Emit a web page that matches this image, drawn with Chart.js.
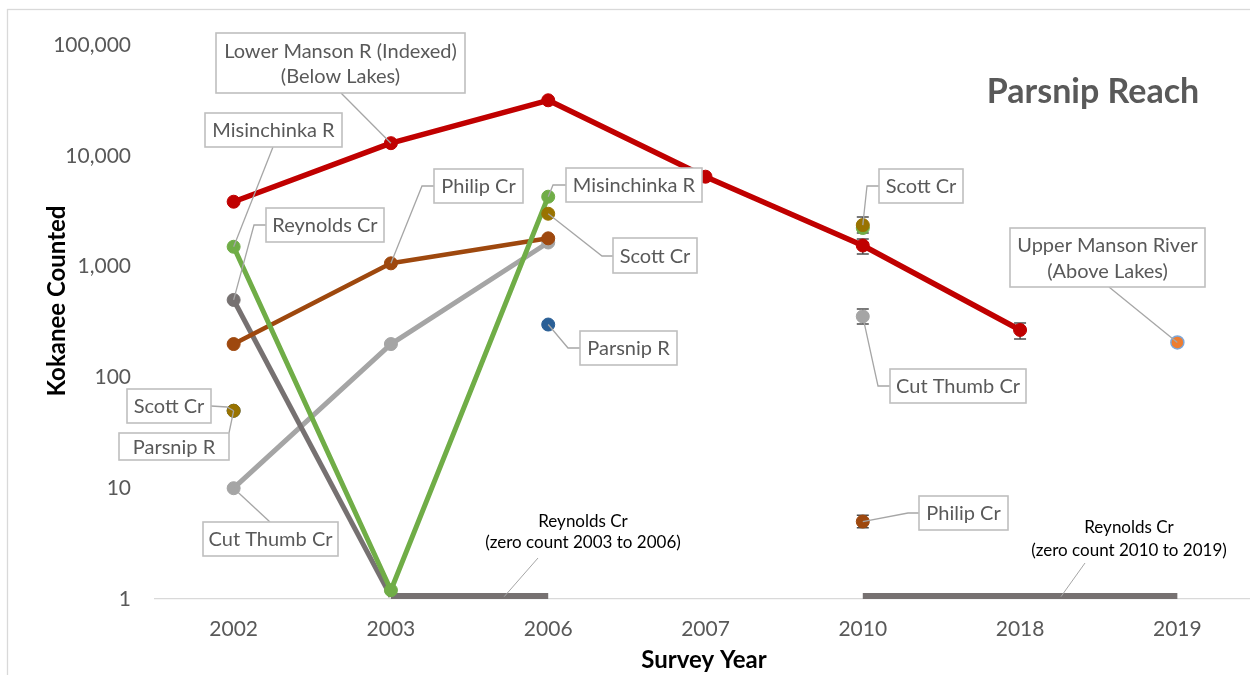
<!DOCTYPE html>
<html>
<head>
<meta charset="utf-8">
<title>Parsnip Reach</title>
<script src="https://cdn.jsdelivr.net/npm/chart.js@4.4.1/dist/chart.umd.min.js"></script>
<style>
  html, body { margin: 0; padding: 0; background: #ffffff; overflow: hidden; width: 1250px; height: 675px; }
  #wrap { position: relative; width: 1264px; height: 675px; }
</style>
</head>
<body>
<div id="wrap"><canvas id="chart" width="1264" height="675"></canvas></div>
<script>
// Survey years (category axis) and log-axis tick values
const years = ['2002', '2003', '2006', '2007', '2010', '2018', '2019'];
const yTickValues = [1, 10, 100, 1000, 10000, 100000];

// Kokanee counts per survey year (null = not surveyed)
const lowerManson   = [3850, 13000, 31700, 6475, 1550, 268, null];
const lowerMansonHi = [null, null, null, null, 1775, 310, null];
const lowerMansonLo = [null, null, null, null, 1300, 222, null];

const scottCr   = [50, null, 3000, null, 2370, null, null];
const scottCrHi = [null, null, null, null, 2800, null, null];
const scottCrLo = [null, null, null, null, 2010, null, null];

const parsnipR    = [50, null, 300, null, null, null, null];
const upperManson = [null, null, null, null, null, null, 207];
const misinchinka = [1510, 1.2, 4275, null, 2230, null, null];

const philipCr   = [200, 1070, 1800, null, 5, null, null];
const philipCrHi = [null, null, null, null, 5.7, null, null];
const philipCrLo = [null, null, null, null, 4.4, null, null];

// zero counts are drawn on the floor of the log axis
const reynoldsCr = [500, 1.05, 1.05, null, 1.05, 1.05, 1.05];

const cutThumbCr   = [10, 200, 1650, null, 355, null, null];
const cutThumbCrHi = [null, null, null, null, 414, null, null];
const cutThumbCrLo = [null, null, null, null, 303, null, null];

const FONT = 'Lato, "Open Sans", "Noto Sans", sans-serif';
const LABEL_GREY = '#595959';

function series(label, data, color, extra) {
  return Object.assign({
    label, data,
    borderColor: color, backgroundColor: color,
    pointBackgroundColor: color, pointBorderColor: color,
    borderWidth: 5, pointRadius: 6.5, pointHoverRadius: 6.5, pointBorderWidth: 1,
    borderJoinStyle: 'round', borderCapStyle: 'round',
    spanGaps: false, tension: 0
  }, extra || {});
}

// first dataset is painted on top
const datasets = [
  series('Lower Manson R (Indexed)', lowerManson, '#C00000', { borderWidth: 5.5 }),
  series('Scott Cr', scottCr, '#997300'),
  series('Parsnip R', parsnipR, '#2A5F96'),
  series('Upper Manson River', upperManson, '#ED7D31', { pointBorderColor: '#7DA7D9', pointBorderWidth: 1.5 }),
  series('Misinchinka R', misinchinka, '#70AD47'),
  series('Philip Cr', philipCr, '#9E480E', { borderWidth: 4.5 }),
  series('Reynolds Cr', reynoldsCr, '#767171', {
    borderCapStyle: 'butt',
    pointRadius: ctx => (ctx.dataIndex === 0 ? 6.5 : 0),
    segment: { borderWidth: ctx => (ctx.p0DataIndex === 0 ? 5 : 7.5) }
  }),
  series('Cut Thumb Cr', cutThumbCr, '#A5A5A5')
];

// error bars: [values, high, low]
const errorBars = [
  [lowerManson, lowerMansonHi, lowerMansonLo],
  [scottCr, scottCrHi, scottCrLo],
  [philipCr, philipCrHi, philipCrLo],
  [cutThumbCr, cutThumbCrHi, cutThumbCrLo]
];

// boxed callouts: the leader runs from the box through the listed points to the data point
const callouts = [
  { data: lowerManson, i: 1, lines: ['Lower Manson R (Indexed)', '(Below Lakes)'], box: [216, 33, 249, 60], path: [[341, 93]] },
  { data: misinchinka, i: 0, lines: ['Misinchinka R'], box: [205, 113, 137, 34], path: [[273, 147]] },
  { data: reynoldsCr, i: 0, lines: ['Reynolds Cr'], box: [266, 208, 118, 34], path: [[266, 225], [254, 225]] },
  { data: philipCr, i: 1, lines: ['Philip Cr'], box: [434, 169, 89, 34], path: [[434, 186], [422, 186]] },
  { data: misinchinka, i: 2, lines: ['Misinchinka R'], box: [566, 168, 136, 34], path: [[566, 185], [553, 185]] },
  { data: scottCr, i: 2, lines: ['Scott Cr'], box: [613, 238, 84, 35], path: [[613, 256], [602, 256]] },
  { data: parsnipR, i: 2, lines: ['Parsnip R'], box: [580, 331, 97, 34], path: [[580, 348], [568, 348]] },
  { data: scottCr, i: 4, lines: ['Scott Cr'], box: [879, 169, 84, 34], path: [[879, 186], [867, 186]] },
  { data: upperManson, i: 6, lines: ['Upper Manson River', '(Above Lakes)'], box: [1010, 228, 195, 59], path: [[1109, 287]] },
  { data: cutThumbCr, i: 4, lines: ['Cut Thumb Cr'], box: [890, 369, 136, 34], path: [[890, 386], [878, 386]] },
  { data: philipCr, i: 4, lines: ['Philip Cr'], box: [919, 496, 89, 34], path: [[919, 513], [908, 513]] },
  { data: scottCr, i: 0, lines: ['Scott Cr'], box: [127, 389, 84, 34], path: [[211, 406], [227, 407]] },
  { data: parsnipR, i: 0, lines: ['Parsnip R'], box: [119, 433, 110, 27], path: [[229, 433]] },
  { data: cutThumbCr, i: 0, lines: ['Cut Thumb Cr'], box: [203, 522, 135, 34], path: [[270, 522]] }
];

// notes for the zero-count runs; "at" is a fractional category position on the floor line
const zeroNotes = [
  { lines: ['Reynolds Cr', '(zero count 2003 to 2006)'], cx: 583, cy: [522, 543], from: [538, 558], at: 1.72 },
  { lines: ['Reynolds Cr', '(zero count 2010 to 2019)'], cx: 1129, cy: [528, 551], from: [1085, 563], at: 5.26 }
];

const annotations = {
  id: 'annotations',
  beforeDraw(chart) {
    const ctx = chart.ctx;
    ctx.save();
    ctx.fillStyle = '#ffffff';
    ctx.fillRect(0, 0, chart.width, chart.height);
    ctx.strokeStyle = '#D9D9D9';
    ctx.lineWidth = 1.3;
    ctx.strokeRect(7.5, 9.5, 2000, 2000);
    ctx.restore();
  },
  beforeDatasetsDraw(chart) {
    const ctx = chart.ctx, xs = chart.scales.x, ys = chart.scales.y;
    ctx.save();
    ctx.strokeStyle = '#4D4D4D';
    ctx.lineWidth = 1.5;
    errorBars.forEach(([vals, hi, lo]) => {
      vals.forEach((v, i) => {
        if (hi[i] == null || lo[i] == null) return;
        const x = xs.getPixelForValue(i);
        const yh = ys.getPixelForValue(hi[i]);
        const yl = ys.getPixelForValue(lo[i]);
        ctx.beginPath();
        ctx.moveTo(x, yh); ctx.lineTo(x, yl);
        ctx.moveTo(x - 6, yh); ctx.lineTo(x + 6, yh);
        ctx.moveTo(x - 6, yl); ctx.lineTo(x + 6, yl);
        ctx.stroke();
      });
    });
    ctx.restore();
  },
  afterDatasetsDraw(chart) {
    const ctx = chart.ctx, xs = chart.scales.x, ys = chart.scales.y;
    ctx.save();

    // leader lines of boxed callouts
    ctx.strokeStyle = '#A6A6A6';
    ctx.lineWidth = 1.3;
    callouts.forEach(c => {
      const px = xs.getPixelForValue(c.i);
      const py = ys.getPixelForValue(c.data[c.i]);
      ctx.beginPath();
      ctx.moveTo(c.path[0][0], c.path[0][1]);
      for (let k = 1; k < c.path.length; k++) ctx.lineTo(c.path[k][0], c.path[k][1]);
      ctx.lineTo(px, py);
      ctx.stroke();
    });

    // boxes and their text
    ctx.font = '20px ' + FONT;
    ctx.textAlign = 'center';
    ctx.textBaseline = 'middle';
    callouts.forEach(c => {
      const [bx, by, bw, bh] = c.box;
      ctx.fillStyle = '#ffffff';
      ctx.fillRect(bx, by, bw, bh);
      ctx.strokeStyle = '#BFBFBF';
      ctx.lineWidth = 1.6;
      ctx.strokeRect(bx, by, bw, bh);
      ctx.fillStyle = LABEL_GREY;
      const lh = 25.5;
      const top = by + bh / 2 - (c.lines.length - 1) * lh / 2;
      c.lines.forEach((t, k) => ctx.fillText(t, bx + bw / 2, top + k * lh + 1));
    });

    // zero-count notes
    ctx.font = '17px ' + FONT;
    ctx.fillStyle = '#000000';
    zeroNotes.forEach(n => {
      n.lines.forEach((t, k) => ctx.fillText(t, n.cx, n.cy[k]));
      ctx.strokeStyle = '#A6A6A6';
      ctx.lineWidth = 1;
      ctx.beginPath();
      ctx.moveTo(n.from[0], n.from[1]);
      ctx.lineTo(xs.getPixelForValue(n.at), ys.getPixelForValue(reynoldsCr[1]));
      ctx.stroke();
    });

    // chart title
    ctx.font = 'bold 34px ' + FONT;
    ctx.fillStyle = LABEL_GREY;
    ctx.textBaseline = 'alphabetic';
    ctx.fillText('Parsnip Reach', 1093, 103);

    // axis titles
    ctx.font = 'bold 24px ' + FONT;
    ctx.fillStyle = '#000000';
    ctx.textBaseline = 'middle';
    ctx.fillText('Survey Year', 704, 660);
    ctx.translate(57, 301);
    ctx.rotate(-Math.PI / 2);
    ctx.fillText('Kokanee Counted', 0, 0);
    ctx.restore();
  }
};

new Chart(document.getElementById('chart'), {
  type: 'line',
  data: { labels: years, datasets },
  options: {
    responsive: false,
    animation: false,
    events: [],
    layout: { padding: { top: 45, left: 0, right: 0, bottom: 0 } },
    plugins: { legend: { display: false }, tooltip: { enabled: false }, title: { display: false } },
    scales: {
      x: {
        type: 'category',
        offset: true,
        grid: { display: false, drawTicks: false },
        border: { display: true, color: '#D9D9D9', width: 1.3 },
        ticks: { color: LABEL_GREY, font: { family: FONT, size: 21 }, padding: 18, maxRotation: 0 },
        afterFit(scale) { scale.height = 76; }
      },
      y: {
        type: 'logarithmic',
        min: 1,
        max: 100000,
        grid: { display: false, drawTicks: false },
        border: { display: false },
        ticks: {
          color: LABEL_GREY,
          font: { family: FONT, size: 21 },
          padding: 24,
          callback: v => Number(v).toLocaleString('en-US')
        },
        afterBuildTicks(scale) { scale.ticks = yTickValues.map(v => ({ value: v })); },
        afterFit(scale) { scale.width = 155; }
      }
    }
  },
  plugins: [annotations]
});
</script>
</body>
</html>
